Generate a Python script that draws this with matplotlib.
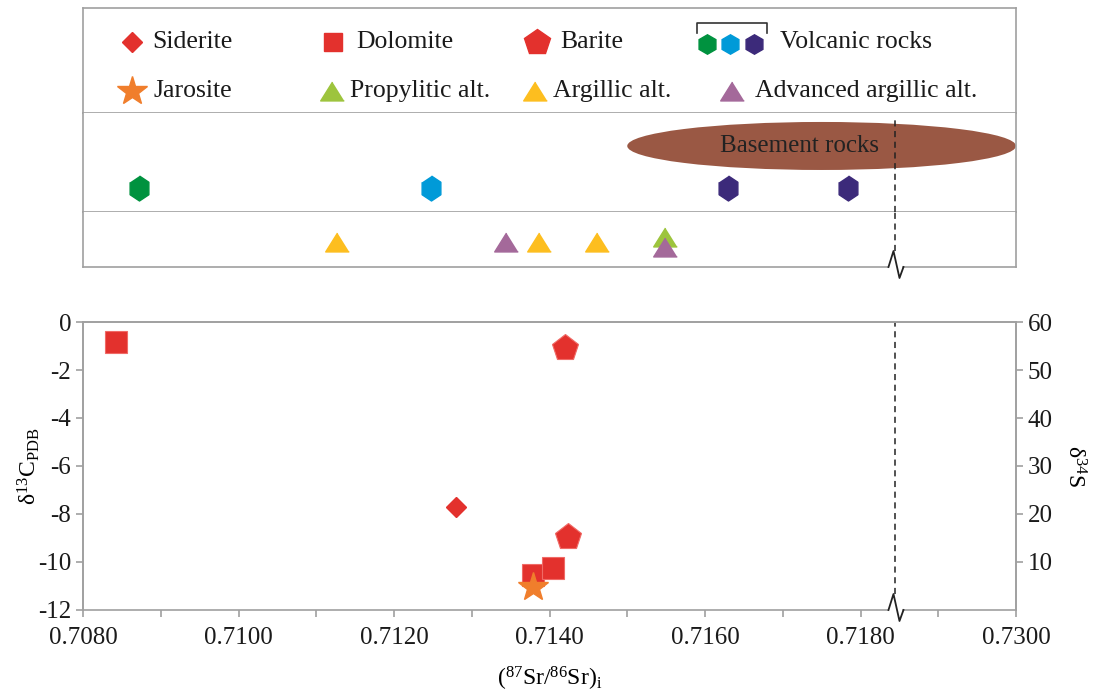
import numpy as np
import matplotlib
matplotlib.use("Agg")
import matplotlib.pyplot as plt
from matplotlib.patches import Ellipse

plt.rcParams['font.family'] = ['Liberation Serif', 'DejaVu Serif']
plt.rcParams['mathtext.fontset'] = 'custom'
plt.rcParams['mathtext.rm'] = 'Liberation Serif'
plt.rcParams['mathtext.it'] = 'Liberation Serif:italic'
plt.rcParams['axes.unicode_minus'] = False

# --- data (87Sr/86Sr)i vs d13C / d34S ---
siderite_sr = [0.71280]
siderite_c = [-7.7]
dolomite_sr = [0.70842, 0.71379, 0.71405]
dolomite_c = [-0.83, -10.54, -10.25]
barite_sr = [0.71420, 0.71424]
barite_s = [54.6, 15.2]
jarosite_sr = [0.71379]
jarosite_s = [4.8]

# volcanic rocks (top strip)
volc_sr = [0.70872, 0.71248, 0.71630, 0.71784]
volc_colors = ['#00923F', '#009AD8', '#3C2A7A', '#3C2A7A']

# alteration samples (lower strip)
prop_sr = [0.71549]
arg_sr = [0.71127, 0.71387, 0.71461]
adv_sr = [0.71344, 0.71549]
prop_y = [0.55]
arg_y = [0.45, 0.45, 0.45]
adv_y = [0.45, 0.36]

basement_center = 0.71750
basement_width = 0.0050
basement_label_x = 0.71722
break_x = 0.71845

xticks = [0.708, 0.710, 0.712, 0.714, 0.716, 0.718, 0.720]
xticklabels = ['0.7080', '0.7100', '0.7120', '0.7140', '0.7160', '0.7180', '0.7300']
xminor = [0.709, 0.711, 0.713, 0.715, 0.717, 0.719]
c_ticks = [0, -2, -4, -6, -8, -10, -12]
s_ticks = [10, 20, 30, 40, 50, 60]

red = '#E3312D'
orange = '#F07E2C'
prop_c = '#9DC43D'
arg_c = '#FDBE1F'
adv_c = '#A4699A'
brown = '#9A5844'
gray = '#A0A0A0'
tri = [(0, 0.8), (-1, -0.8), (1, -0.8)]
hexv = [(0, 1), (0.75, 0.5), (0.75, -0.5), (0, -1), (-0.75, -0.5), (-0.75, 0.5)]

W, H = 1094, 695
fig = plt.figure(figsize=(W / 100, H / 100), dpi=100)


def box(l, t, r, b):
    return [l / W, 1 - b / H, (r - l) / W, (b - t) / H]


ax_leg = fig.add_axes(box(83, 8, 1016, 113))
ax_volc = fig.add_axes(box(83, 113, 1016, 212))
ax_alt = fig.add_axes(box(83, 212, 1016, 267))
ax = fig.add_axes(box(83, 322, 1016, 610))
ax2 = ax.twinx()

for a in (ax_leg, ax_volc, ax_alt, ax, ax2):
    for sp in a.spines.values():
        sp.set_color(gray)
        sp.set_linewidth(1.2)

# pixel -> data helpers for the break symbol
px_x = 0.001 / 77.75
zig = [(-7, 0), (-2, 16), (4, -11), (8, 0)]


def draw_break(a, h_px):
    xs = [break_x + dx * px_x for dx, dy in zig]
    ys = [dy / h_px for dx, dy in zig]
    tr = a.get_xaxis_transform()
    a.plot(xs, ys, color='#222222', lw=1.3, transform=tr, clip_on=False, zorder=5)
    a.plot([0.708, xs[0]], [0, 0], color=gray, lw=1.2, transform=tr, clip_on=False)
    a.plot([xs[-1], 0.720], [0, 0], color=gray, lw=1.2, transform=tr, clip_on=False)


# ---- legend box ----
ax_leg.set_xlim(83, 1016)
ax_leg.set_ylim(113, 8)
ax_leg.set_xticks([])
ax_leg.set_yticks([])
fs_leg = 18.5
leg_rows = [
    ('Siderite', 'D', red, 10, 132, 42, 152),
    ('Dolomite', 's', red, 13, 333, 42, 356),
    ('Barite', 'p', red, 19, 537, 42, 560),
    ('Jarosite', '*', orange, 22, 132, 91, 153),
    ('Propylitic alt.', tri, prop_c, 17, 332, 91, 350),
    ('Argillic alt.', tri, arg_c, 17, 535, 91, 553),
    ('Advanced argillic alt.', tri, adv_c, 17, 732, 91, 755),
]
for label, m, c, ms, mx, my, tx in leg_rows:
    ax_leg.plot([mx], [my], marker=m, color=c, ms=ms, mec=c, ls='none')
    ax_leg.text(tx, my, label, fontsize=fs_leg, va='center', ha='left', color='#1a1a1a')
for hx, hc in zip([707, 730, 754], ['#00923F', '#009AD8', '#3C2A7A']):
    ax_leg.plot([hx], [44], marker='h', color=hc, ms=14, mec=hc, ls='none')
ax_leg.plot([697, 697, 767, 767], [33, 23, 23, 33], color='#333333', lw=1.2)
ax_leg.text(780, 42, 'Volcanic rocks', fontsize=fs_leg, va='center', ha='left', color='#1a1a1a')

# ---- volcanic strip ----
ax_volc.set_xlim(0.708, 0.720)
ax_volc.set_ylim(0, 1)
ax_volc.set_xticks([])
ax_volc.set_yticks([])
ax_volc.spines['top'].set_visible(False)
ax_volc.add_patch(Ellipse((basement_center, 0.667), basement_width, 0.485,
                          facecolor=brown, edgecolor='none', zorder=1))
ax_volc.text(basement_label_x, 0.667, 'Basement rocks', fontsize=18, ha='center',
             va='center', color='#222222', zorder=2)
for x, c in zip(volc_sr, volc_colors):
    ax_volc.plot([x], [0.24], marker=hexv, color=c, ms=18, mec=c, ls='none', zorder=3)
ax_volc.plot([break_x, break_x], [0, 0.97], color='#222222', lw=1.1, dashes=(4, 3), zorder=4)

# ---- alteration strip ----
ax_alt.set_xlim(0.708, 0.720)
ax_alt.set_ylim(0, 1)
ax_alt.set_xticks([])
ax_alt.set_yticks([])
ax_alt.spines['top'].set_visible(False)
ax_alt.spines['bottom'].set_visible(False)
ax_alt.plot(arg_sr, arg_y, marker=tri, color=arg_c, ms=17, ls='none', clip_on=False)
ax_alt.plot(prop_sr, prop_y, marker=tri, color=prop_c, ms=17, ls='none', clip_on=False)
ax_alt.plot(adv_sr, adv_y, marker=tri, color=adv_c, ms=17, ls='none', clip_on=False)
ax_alt.plot([break_x, break_x], [16 / 55, 1], color='#222222', lw=1.1, dashes=(4, 3))
draw_break(ax_alt, 55)

# ---- main plot ----
ax.set_xlim(0.708, 0.720)
ax.set_ylim(-12, 0)
ax2.set_ylim(0, 60)
ax.spines['bottom'].set_visible(False)
ax2.spines['bottom'].set_visible(False)
ax.set_xticks(xticks)
ax.set_xticklabels(xticklabels)
ax.set_xticks(xminor, minor=True)
ax.set_yticks(c_ticks)
ax.set_yticklabels([str(v) for v in c_ticks])
ax2.set_yticks(s_ticks)
ax.tick_params(axis='both', which='both', direction='out', length=5, width=1.2,
               color=gray, labelsize=18, labelcolor='#1a1a1a')
ax.tick_params(axis='x', pad=7)
ax2.tick_params(axis='y', direction='out', length=5, width=1.2, color=gray,
                labelsize=18, labelcolor='#1a1a1a')

ax.plot(dolomite_sr, dolomite_c, marker='s', color=red, ms=16, mec='#F06A66', mew=0.8, ls='none')
ax.plot(siderite_sr, siderite_c, marker='D', color=red, ms=10.5, ls='none')
ax2.plot(barite_sr, barite_s, marker='p', color=red, ms=20, mec='#F06A66', mew=0.8, ls='none')
ax2.plot(jarosite_sr, jarosite_s, marker='*', color=orange, ms=22, ls='none', zorder=5)
ax.plot([break_x, break_x], [16 / 288, 1], color='#222222', lw=1.1, dashes=(4, 3),
        transform=ax.get_xaxis_transform())
draw_break(ax, 288)

ax.set_ylabel('δ$^{13}$C$_{\\rm PDB}$', fontsize=17, labelpad=-3)
ax2.set_ylabel('δ$^{34}$S', fontsize=17, rotation=-90, labelpad=24)
ax.set_xlabel('($^{87}$Sr/$^{86}$Sr)$_{\\rm i}$', fontsize=17, labelpad=12)

fig.savefig('out.png', dpi=100)
